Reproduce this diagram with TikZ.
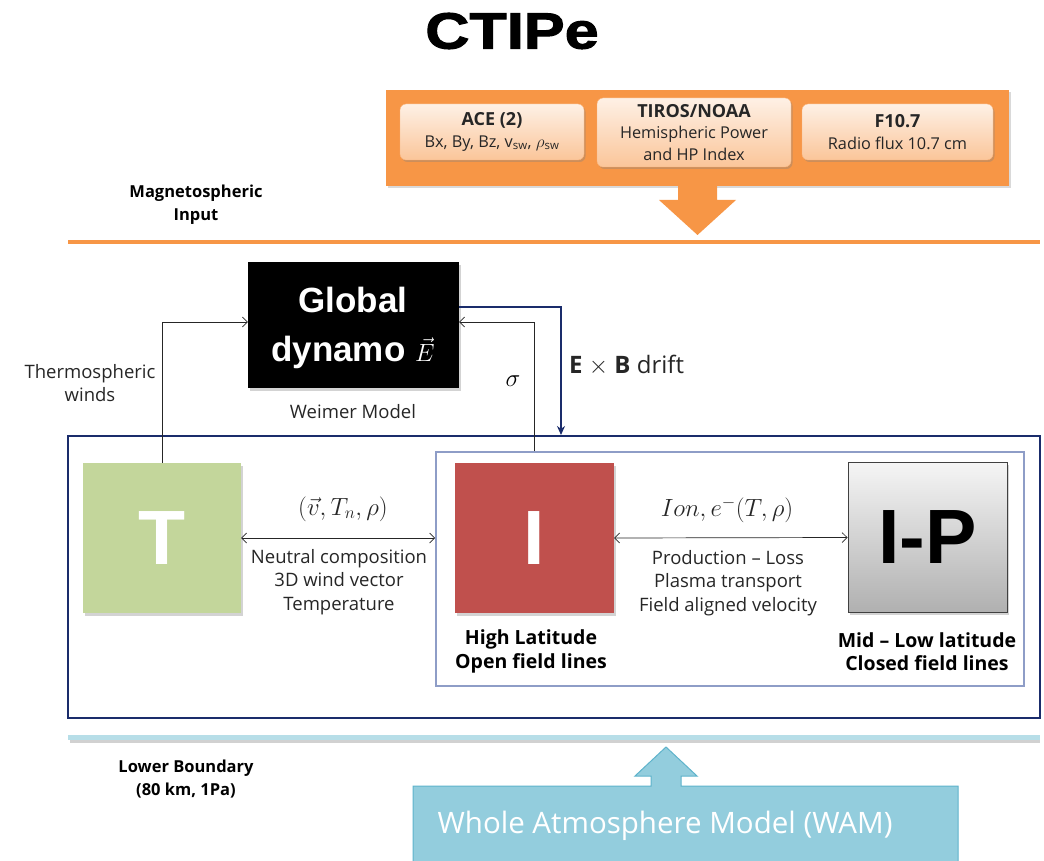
\documentclass[tikz,border=0pt]{standalone}
\usepackage{fontspec}
\usepackage{amsmath}
\setmainfont{Open Sans}
\newfontfamily\headfont{Liberation Sans}
\newfontfamily\blackfont[FakeStretch=1.2,FakeBold=2]{Liberation Sans}
\usetikzlibrary{arrows.meta,shadows}

\definecolor{ctorange}{HTML}{F79646}
\definecolor{ctnavy}{HTML}{1A2C6B}
\definecolor{ctframe}{HTML}{8E9DC7}
\definecolor{ctgreen}{HTML}{C3D69B}
\definecolor{ctred}{HTML}{C0504D}
\definecolor{ctsky}{HTML}{B7DEE8}
\definecolor{ctwam}{HTML}{93CDDD}
\definecolor{ctwamline}{HTML}{5EB3CB}
\definecolor{cttext}{HTML}{262626}

\newcommand{\fsz}[2]{\fontsize{#1}{#2}\selectfont}

\tikzset{
  inputbox/.style={rounded corners=6pt, top color=white!45!ctorange!25, bottom color=ctorange!55,
    draw=ctorange!70, line width=0.4pt, inner sep=0pt, align=center, text=cttext,
    font=\fsz{16.3}{21.5},
    drop shadow={shadow xshift=1.5pt, shadow yshift=-2pt, opacity=0.35}},
  modelbox/.style={inner sep=0pt, align=center, font=\headfont\bfseries\fsz{77}{77},
    drop shadow={shadow xshift=2pt, shadow yshift=-2.5pt, opacity=0.35}},
  note/.style={align=center, text=cttext, inner sep=0pt},
  body/.style={note, font=\fsz{18.5}{23.5}},
  caption/.style={note, text=black, font=\bfseries\fsz{19.5}{23.5}},
  sidelabel/.style={note, text=black, font=\bfseries\fsz{16.5}{23}},
  link/.style={draw=black!85, line width=0.7pt},
  barb/.style={-{Straight Barb[length=5pt,width=10pt]}},
  dbarb/.style={{Straight Barb[length=5pt,width=10pt]}-{Straight Barb[length=5pt,width=10pt]}},
}

\begin{document}
\begin{tikzpicture}[x=1pt,y=-1pt]
\useasboundingbox (0,0) rectangle (1044,861);
\clip (0,0) rectangle (1044,861);

% title
\node (title) at (512,31) {\blackfont\bfseries\fsz{51}{51}CTIPe};

% external drivers panel
\node (panel) [fill=ctorange, minimum width=623, minimum height=96, inner sep=0pt,
  drop shadow={shadow xshift=1.5pt, shadow yshift=-2.5pt, opacity=0.3}] at (697.5,138) {};
\fill[ctorange] (678,185) -- (678,200) -- (659,200) -- (697.5,235) -- (736,200) -- (717,200) -- (717,185) -- cycle;

\node (ace) [inputbox, minimum width=184, minimum height=56] at (492,132)
  {{\bfseries\fsz{18}{22}ACE (2)}\\Bx, By, Bz, v$_{\text{sw}}$, $\rho_{\text{sw}}$};
\node (tiros) [inputbox, minimum width=194, minimum height=69] at (694,132.5)
  {{\bfseries\fsz{18}{21.5}TIROS/NOAA}\\Hemispheric Power\\and HP Index};
\node (f107) [inputbox, minimum width=191, minimum height=56] at (897.5,132)
  {{\bfseries\fsz{18}{22}F10.7}\\Radio flux 10.7 cm};

\node (magin) [sidelabel] at (196,205) {Magnetospheric\\Input};
\draw[ctorange, line width=4pt] (68,242) -- (1040,242);

% electrodynamics
\node (gd) [modelbox, fill=black, minimum width=211, minimum height=126] at (353.5,325) {};
\node (gdtext) [note, text=white, font=\headfont\bfseries\fsz{35}{49}] at (353,328)
  {Global\\dynamo $\vec{E}$};
\node (weimer) [body] at (353,412) {Weimer Model};
\node (thwind) [body] at (90,383) {Thermospheric\\winds};
\node (sigma) [font=\fsz{23}{23}] at (513,381) {$\sigma$};

% coupled model frames
\node (outer) [draw=ctnavy, line width=2.5pt, minimum width=972, minimum height=282, inner sep=0pt] at (554,577) {};
\node (hlbox) [draw=ctframe, line width=2pt, minimum width=588, minimum height=234, inner sep=0pt] at (730,569) {};

\node (T) [modelbox, fill=ctgreen, minimum width=158, minimum height=150, text=white] at (162,538) {T};
\node (I) [modelbox, fill=ctred, minimum width=159, minimum height=150, text=white] at (534.5,538) {I};
\node (ip) [modelbox, top color=gray!8, bottom color=gray!62, draw=black!75, line width=1pt,
  minimum width=159, minimum height=150] at (927.5,537.5) {I-P};

% feedback paths to the dynamo
\draw[link, barb] (T.north) |- ([yshift=3pt]gd.west);
\draw[link, barb] (hlbox.north -| I.north) |- ([yshift=3pt]gd.east);
\coordinate (exbend) at (561,435);
\draw[ctnavy, line width=2pt, -{Stealth[length=9pt,width=8pt]}] ([yshift=18pt]gd.east) -| (exbend);
\node (exb) [anchor=west, inner sep=0pt, text=cttext, font=\fsz{24}{24}] at (569,365)
  {\textbf{E} $\times$ \textbf{B} drift};

% exchanges between components
\draw[link, dbarb] (T.east) -- (T.east -| hlbox.west);
\node (tilab) [note, font=\fsz{25}{25}] at (343,509) {$(\vec{v}, T_n, \rho)$};
\node (tinfo) [body] at (339,582) {Neutral composition\\3D wind vector\\Temperature};

\draw[link, dbarb] (I.east) -- (ip.west);
\node (iplab) [note, font=\fsz{26}{26}] at (727,510) {$Ion, e^{-}(T, \rho)$};
\node (ipinfo) [body] at (728,583) {Production -- Loss\\Plasma transport\\Field aligned velocity};

\node (hlat) [caption] at (531,651.5) {High Latitude\\Open field lines};
\node (mlat) [caption] at (927,651.5) {Mid -- Low latitude\\Closed field lines};

% lower boundary
\draw[black, opacity=0.18, line width=3pt] (70,741) -- (1040,741);
\draw[ctsky, line width=5pt] (68,737) -- (1040,737);
\node (lowb) [sidelabel] at (186,779.5) {Lower Boundary\\(80 km, 1Pa)};

\draw[ctwamline, line width=1pt, fill=ctwam]
  (413,870) -- (413,786) -- (651,786) -- (651,776) -- (635,776) -- (666,747) -- (697,776)
  -- (681,776) -- (681,786) -- (958,786) -- (958,870);
\node (wam) [text=white, font=\fsz{29.5}{29.5}] at (665,826) {Whole Atmosphere Model (WAM)};
\end{tikzpicture}
\end{document}
